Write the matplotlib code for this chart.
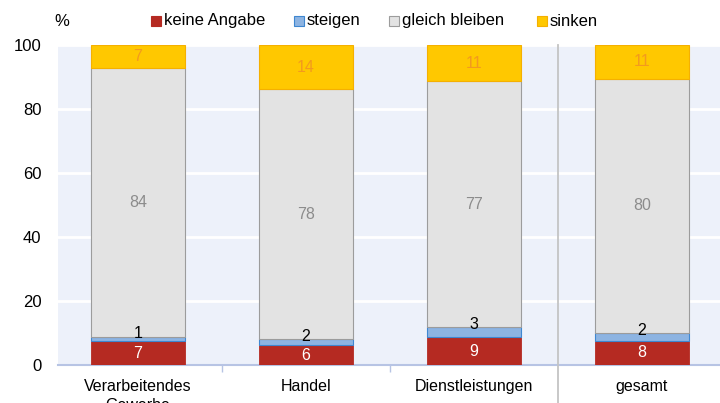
import matplotlib
matplotlib.use("Agg")
import matplotlib.pyplot as plt
import numpy as np
from matplotlib.patches import Rectangle

plt.rcParams["font.family"] = ["Liberation Sans", "DejaVu Sans"]

categories = ["Verarbeitendes\nGewerbe", "Handel", "Dienstleistungen", "gesamt"]
keine_angabe = [7.4, 6.1, 8.6, 7.6]
steigen = [1.4, 1.9, 3.2, 2.3]
gleich_bleiben = [83.9, 78.2, 76.9, 79.6]
sinken = [7.3, 13.8, 11.3, 10.5]
lbl_keine = [7, 6, 9, 8]
lbl_steigen = [1, 2, 3, 2]
lbl_gleich = [84, 78, 77, 80]
lbl_sinken = [7, 14, 11, 11]
yticks = [0, 20, 40, 60, 80, 100]

c_red, c_blue, c_grey, c_yel = "#B52A22", "#8DB4E2", "#E3E3E3", "#FFC800"

fig = plt.figure(figsize=(7.2, 4.03), dpi=100)
ax = fig.add_axes([58/720, 38/403, 1 - 58/720, (365-45)/403])
ax.set_facecolor("#EDF1FA")
x = np.arange(len(categories))
w = 0.56
ka = np.array(keine_angabe); st = np.array(steigen); gb = np.array(gleich_bleiben); sk = np.array(sinken)

ax.bar(x, ka, w, color=c_red, edgecolor=c_red, linewidth=0.6, zorder=3)
ax.bar(x, st, w, bottom=ka, color=c_blue, edgecolor="#3F87D0", linewidth=0.8, zorder=3)
ax.bar(x, gb, w, bottom=ka+st, color=c_grey, edgecolor="#9C9C9C", linewidth=0.8, zorder=3)
ax.bar(x, sk, w, bottom=ka+st+gb, color=c_yel, edgecolor="#F5B000", linewidth=0.8, zorder=3)

fs = 11.5
for i in range(len(x)):
    ax.text(x[i], ka[i]/2, str(lbl_keine[i]), ha="center", va="center", color="white", fontsize=fs, zorder=5)
    ax.text(x[i], ka[i]+st[i]+1.0, str(lbl_steigen[i]), ha="center", va="center", color="black", fontsize=fs, zorder=5)
    ax.text(x[i], ka[i]+st[i]+gb[i]/2, str(lbl_gleich[i]), ha="center", va="center", color="#8C8C8C", fontsize=fs, zorder=5)
    ax.text(x[i], ka[i]+st[i]+gb[i]+sk[i]/2, str(lbl_sinken[i]), ha="center", va="center", color="#F39A1E", fontsize=fs, zorder=5)

ax.set_ylim(0, 100)
ax.set_xlim(-0.476, 3.464)
ax.set_yticks(yticks)
ax.set_yticklabels([str(v) for v in yticks], fontsize=12)
ax.tick_params(axis="y", length=0, pad=12)
ax.yaxis.grid(True, color="white", linewidth=2, zorder=1)
ax.set_axisbelow(True)
for s in ["top", "right", "left"]:
    ax.spines[s].set_visible(False)
ax.spines["bottom"].set_color("#B7C4E4")
ax.spines["bottom"].set_linewidth(1.5)
ax.set_xticks([0.5, 1.5])
ax.set_xticklabels([])
ax.tick_params(axis="x", length=5, color="#B7C4E4", width=1)
for i, c in enumerate(categories):
    ax.text(x[i], -4.5, c, ha="center", va="top", fontsize=11.5, transform=ax.transData, clip_on=False, linespacing=1.3)

# separator line before "gesamt"
ax.plot([2.5, 2.5], [100, -20], color="#C4C4C4", linewidth=1.3, clip_on=False, zorder=4)

# legend
fig.text(54/720, 1 - 22/403, "%", fontsize=12, va="center", ha="left")
items = [("keine Angabe", c_red, "#B52A22", 151), ("steigen", c_blue, "#3F87D0", 294),
         ("gleich bleiben", c_grey, "#9C9C9C", 389), ("sinken", c_yel, "#F5B000", 537)]
for lab, fc, ec, px in items:
    fig.patches.append(Rectangle((px/720, 1 - 26/403), 10/720, 10/403, transform=fig.transFigure,
                                 facecolor=fc, edgecolor=ec, linewidth=0.8))
    fig.text((px+13)/720, 1 - 21/403, lab, fontsize=12, va="center", ha="left")

fig.savefig("out.png", dpi=100)
